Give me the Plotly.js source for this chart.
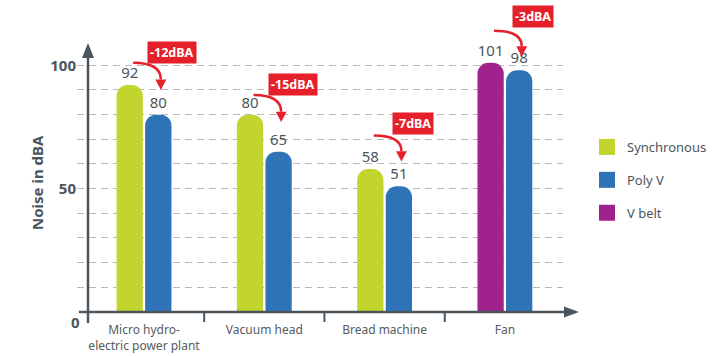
<!DOCTYPE html>
<html>
<head>
<meta charset="utf-8">
<script src="https://cdn.plot.ly/plotly-3.0.1.min.js"></script>
<style>html,body{margin:0;padding:0;background:#fff}#chart{width:728px;height:356px}</style>
</head>
<body>
<div id="chart"></div>
<script>
// ---- data ----
const categories = ['Micro hydro-<br>electric power plant', 'Vacuum head', 'Bread machine', 'Fan'];
const synchronous = [92, 80, 58, null];
const polyV = [80, 65, 51, 98];
const vBelt = [null, null, null, 101];
const savings = ['-12dBA', '-15dBA', '-7dBA', '-3dBA'];
const yTickVals = [0, 10, 20, 30, 40, 50, 60, 70, 80, 90, 100];
const yTickText = ['', '', '', '', '', '50', '', '', '', '', '100'];

// ---- style ----
const C_SYN = '#c2d52f', C_POLY = '#2f73b7', C_VB = '#a1228c';
const C_AX = '#4b555d', C_RED = '#e5202a', C_TXT = '#4b555d';
const FONT = 'Noto Sans, Open Sans, sans-serif';
// callout placement (lift above bar values, in axis units)
const calloutStartLift = [9, 8, 13.5, 13];
const calloutTipLift = [10, 12, 10, 5.5];
const calloutBoxLift = [13.3, 12.3, 18.4, 18.7];

// plot-area pixel frame
const L = 77, R = 563, T = 10, B = 312, W = R - L, H = B - T;
const pxX = p => (p - L) / W;
const pxY = p => (B - p) / H;

const xIdx = categories.map((_, i) => i);

function barTrace(name, vals, color, og) {
  return {
    type: 'bar', name: name, x: xIdx, y: vals, offsetgroup: og,
    marker: {color: color, cornerradius: 11, line: {width: 0}},
    text: vals.map(v => v == null ? '' : String(v)),
    textposition: 'outside', cliponaxis: false,
    textfont: {family: FONT, size: 15, color: C_TXT},
    showlegend: false, hoverinfo: 'skip'
  };
}
function legendTrace(name, color, grp) {
  return {
    type: 'scatter', mode: 'markers', name: name, x: [null], y: [null],
    legendgroup: grp, marker: {symbol: 'square', size: 18, color: color},
    showlegend: true, hoverinfo: 'skip'
  };
}

const data = [
  barTrace('Synchronous', synchronous, C_SYN, 'a'),
  barTrace('Poly V', polyV, C_POLY, 'b'),
  barTrace('V belt', vBelt, C_VB, 'a'),
  legendTrace('Synchronous', C_SYN, 'g1'),
  legendTrace('Poly V', C_POLY, 'g2'),
  legendTrace('V belt', C_VB, 'g3')
];

const shapes = [];
const annotations = [];

// axes with arrows
shapes.push({type: 'line', xref: 'paper', yref: 'paper', x0: pxX(79), x1: pxX(566), y0: pxY(312), y1: pxY(312), line: {color: C_AX, width: 2.5}});
shapes.push({type: 'path', xref: 'paper', yref: 'paper',
  path: `M${pxX(564)},${pxY(306.5)} L${pxX(579)},${pxY(312)} L${pxX(564)},${pxY(317.5)} Z`,
  fillcolor: C_AX, line: {width: 0}});
shapes.push({type: 'line', xref: 'paper', yref: 'paper', x0: pxX(88), x1: pxX(88), y0: pxY(323), y1: pxY(55), line: {color: C_AX, width: 2.5}});
shapes.push({type: 'path', xref: 'paper', yref: 'paper',
  path: `M${pxX(82)},${pxY(58)} L${pxX(88)},${pxY(43)} L${pxX(94)},${pxY(58)} Z`,
  fillcolor: C_AX, line: {width: 0}});
// category boundary ticks
for (let i = 0; i < categories.length - 1; i++) {
  shapes.push({type: 'line', xref: 'x', yref: 'paper', x0: i + 0.5, x1: i + 0.5, y0: pxY(312), y1: pxY(322), line: {color: C_AX, width: 2}});
}

// callouts
categories.forEach((c, i) => {
  const before = synchronous[i] != null ? synchronous[i] : vBelt[i];
  const after = polyV[i];
  const xs = i - 0.09, xt = i + 0.14;
  const ys = before + calloutStartLift[i];
  const yt = after + calloutTipLift[i];
  const head = 4.2;
  shapes.push({type: 'path', xref: 'x', yref: 'y',
    path: `M${xs},${ys} Q${xt},${ys} ${xt},${yt + head}`,
    line: {color: C_RED, width: 2.5}});
  shapes.push({type: 'path', xref: 'x', yref: 'y',
    path: `M${xt - 0.045},${yt + head} L${xt + 0.045},${yt + head} L${xt},${yt} Z`,
    fillcolor: C_RED, line: {width: 0}});
  annotations.push({xref: 'x', yref: 'y', x: i + 0.235, y: before + calloutBoxLift[i],
    text: '<b>' + savings[i] + '</b>', showarrow: false,
    font: {family: FONT, size: 12.5, color: '#ffffff'},
    bgcolor: C_RED, borderpad: 2});
});

// y axis title and zero label
annotations.push({xref: 'paper', yref: 'paper', x: pxX(37), y: pxY(183), xanchor: 'center', yanchor: 'middle', textangle: -90,
  text: '<b>Noise in dBA</b>', showarrow: false, font: {family: FONT, size: 15, color: C_TXT}});
annotations.push({xref: 'paper', yref: 'paper', x: pxX(75), y: pxY(322), xanchor: 'center', yanchor: 'middle',
  text: '<b>0</b>', showarrow: false, font: {family: FONT, size: 15, color: C_TXT}});

const layout = {
  width: 728, height: 356,
  margin: {l: L, r: 728 - R, t: T, b: 356 - B},
  paper_bgcolor: '#ffffff', plot_bgcolor: '#ffffff',
  barmode: 'group', bargap: 0.525, bargroupgap: 0.08,
  font: {family: FONT, color: C_TXT},
  xaxis: {
    range: [-0.557, 3.483], tickmode: 'array', tickvals: xIdx, ticktext: categories,
    showgrid: false, zeroline: false, showline: false, ticks: '', ticklabelstandoff: 9,
    tickfont: {family: FONT, size: 12, color: '#555b60'}, automargin: false, fixedrange: true
  },
  yaxis: {
    range: [0, H / 2.467], tickmode: 'array', tickvals: yTickVals, ticktext: yTickText,
    showgrid: true, gridcolor: '#b9b9b9', griddash: '7px,5px', gridwidth: 1,
    zeroline: false, showline: false, ticks: '',
    tickfont: {family: FONT, size: 15, color: C_TXT, weight: 'bold'}, automargin: false, fixedrange: true
  },
  legend: {x: pxX(587), y: pxY(132), xanchor: 'left', yanchor: 'top', itemwidth: 30,
    font: {family: FONT, size: 13, color: C_TXT}, tracegroupgap: 13, bgcolor: 'rgba(0,0,0,0)'},
  shapes: shapes, annotations: annotations
};

Plotly.newPlot('chart', data, layout, {displayModeBar: false, staticPlot: true});
</script>
</body>
</html>
